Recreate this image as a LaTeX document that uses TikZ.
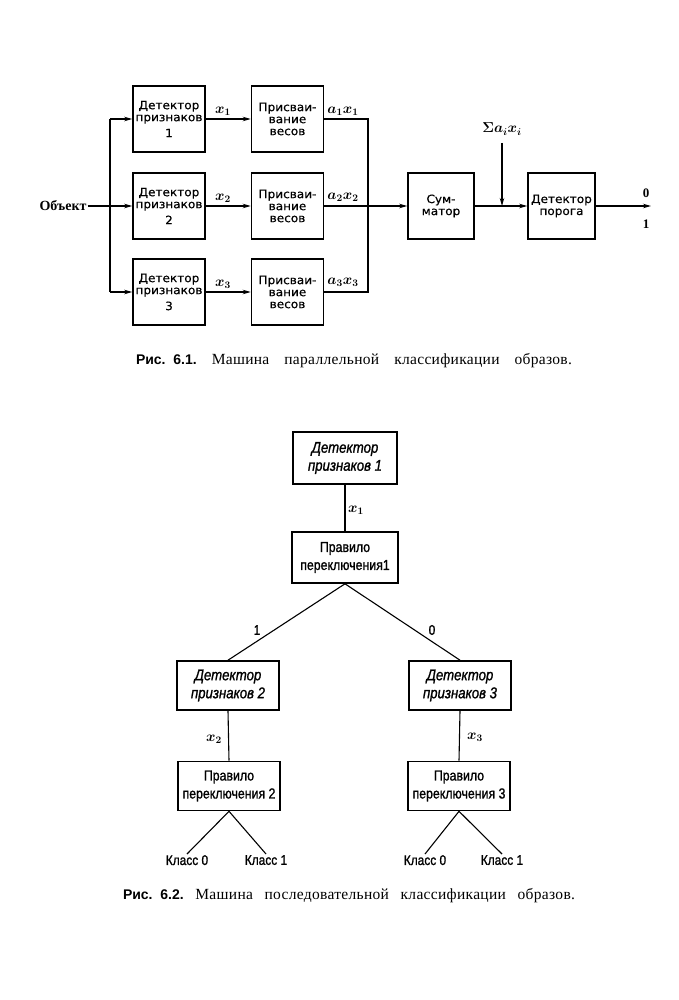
\documentclass[tikz,border=0pt]{standalone}
\usepackage{fontspec}
\usepackage{bm}
\setmainfont{Liberation Serif}
\newfontfamily\boxfont[FakeStretch=1.05,FakeBold=0.4]{DejaVu Sans}
\newfontfamily\treefont[FakeStretch=0.85,FakeBold=1.2]{Liberation Sans}
\newfontfamily\capsans{Liberation Sans}
\newfontfamily\capserif[LetterSpace=2]{Liberation Serif}
\usetikzlibrary{arrows.meta}
\begin{document}
\begin{tikzpicture}[x=1pt,y=-1pt,
  blk/.style={draw,line width=1.6pt,minimum width=72pt,minimum height=66pt,align=center,inner sep=0pt,font=\boxfont\fontsize{11.5}{12}\selectfont},
  tbox/.style={draw,line width=1.6pt,minimum width=102pt,minimum height=49pt,align=center,inner sep=0pt,font=\treefont\fontsize{14.5}{18}\selectfont},
  dbox/.style={tbox,font=\treefont\itshape\fontsize{15.5}{18}\selectfont},
  wire/.style={line width=1.1pt},
  arr/.style={wire,-{Stealth[length=8pt,width=4.5pt]}},
  lbl/.style={font=\fontsize{14}{15}\selectfont,inner sep=1pt},
  cls/.style={font=\treefont\fontsize{14}{16}\selectfont,inner sep=1pt,anchor=north},
  capt/.style={font=\capserif\fontsize{15.5}{17}\selectfont,inner sep=0pt}
]
\useasboundingbox (0,0) rectangle (679,1000);
% ---------- Fig 6.1 ----------
\node[font=\bfseries\fontsize{14}{16}\selectfont,inner sep=1pt] (obj) at (63,206) {Объект};
\node[blk] (d1) at (169,119) {Детектор\\признаков\\[4pt]1};
\node[blk] (d2) at (169,206) {Детектор\\признаков\\[4pt]2};
\node[blk] (d3) at (169,292) {Детектор\\признаков\\[4pt]3};
\node[blk] (w1) at (287.5,119) {Присваи-\\вание\\весов};
\node[blk] (w2) at (287.5,206) {Присваи-\\вание\\весов};
\node[blk] (w3) at (287.5,292) {Присваи-\\вание\\весов};
\node[blk,minimum width=66pt] (sum) at (441,206) {Сум-\\матор};
\node[blk,minimum width=67pt] (thr) at (561.5,206) {Детектор\\порога};
\coordinate (bus) at (110,206);
\coordinate (bus1) at (110,119);
\coordinate (bus3) at (110,292);
\coordinate (col1) at (368,119);
\coordinate (col3) at (368,292);
\coordinate (sig) at (502,143);
\coordinate (sigend) at (502,206);
\coordinate (out) at (651,206);
\draw[arr] (obj.east) -- (d2.west);
\draw[wire] (bus1) -- (bus3);
\draw[arr] (bus1) -- (d1.west);
\draw[arr] (bus3) -- (d3.west);
\draw[arr] (d1.east) -- (w1.west);
\draw[arr] (d2.east) -- (w2.west);
\draw[arr] (d3.east) -- (w3.west);
\draw[wire] (w1.east) -- (col1) -- (col3) -- (w3.east);
\draw[arr] (w2.east) -- (sum.west);
\draw[arr] (sum.east) -- (thr.west);
\draw[arr] (sig) -- (sigend);
\draw[arr] (thr.east) -- (out);
\node[lbl] (lx1) at (223,111) {$\bm{x_1}$};
\node[lbl] (lx2) at (223,198) {$\bm{x_2}$};
\node[lbl] (lx3) at (223,284) {$\bm{x_3}$};
\node[lbl] (la1) at (343,111) {$\bm{a_1x_1}$};
\node[lbl] (la2) at (343,197) {$\bm{a_2x_2}$};
\node[lbl] (la3) at (343,282) {$\bm{a_3x_3}$};
\node[lbl] (lsig) at (502,129) {$\bm{\Sigma a_i x_i}$};
\node[lbl,font=\bfseries\fontsize{13}{14}\selectfont] (o0) at (646,193) {0};
\node[lbl,font=\bfseries\fontsize{13}{14}\selectfont] (o1) at (646,224) {1};
\node[capt] (cap1) at (354,361) {\makebox[436pt][s]{\mbox{\capsans\bfseries\fontsize{14}{16}\selectfont Рис.~~6.1.} Машина параллельной классификации образов.}};
% ---------- Fig 6.2 ----------
\node[dbox,minimum width=104pt,minimum height=52pt] (t1) at (345,458) {Детектор\\признаков 1};
\node[tbox,minimum width=106pt,minimum height=51pt] (r1) at (345,557.5) {Правило\\переключения1};
\node[dbox] (t2) at (228,685.5) {Детектор\\признаков 2};
\node[dbox] (t3) at (460,685.5) {Детектор\\признаков 3};
\node[tbox] (r2) at (229,786) {Правило\\переключения 2};
\node[tbox] (r3) at (459,786) {Правило\\переключения 3};
\draw[wire] (t1.south) -- (r1.north);
\draw[wire] (r1.south) -- (t2.north);
\draw[wire] (r1.south) -- (t3.north);
\draw[wire] (t2.south) -- (r2.north);
\draw[wire] (t3.south) -- (r3.north);
\node[lbl] (bx1) at (356,510) {$\bm{x_1}$};
\node[lbl] (bx2) at (214,739) {$\bm{x_2}$};
\node[lbl] (bx3) at (475,737) {$\bm{x_3}$};
\node[lbl,font=\treefont\fontsize{14}{15}\selectfont] (b1) at (257,630) {1};
\node[lbl,font=\treefont\fontsize{14}{15}\selectfont] (b0) at (432,630) {0};
\node[cls] (c20) at (187,854) {Класс 0};
\node[cls] (c21) at (266,854) {Класс 1};
\node[cls] (c30) at (425,854) {Класс 0};
\node[cls] (c31) at (502,854) {Класс 1};
\draw[wire] (r2.south) -- (c20.north);
\draw[wire] (r2.south) -- (c21.north);
\draw[wire] (r3.south) -- (c30.north);
\draw[wire] (r3.south) -- (c31.north);
\node[capt] (cap2) at (349,896) {\makebox[452pt][s]{\mbox{\capsans\bfseries\fontsize{14}{16}\selectfont Рис.~~6.2.} Машина последовательной классификации образов.}};
\end{tikzpicture}
\end{document}
